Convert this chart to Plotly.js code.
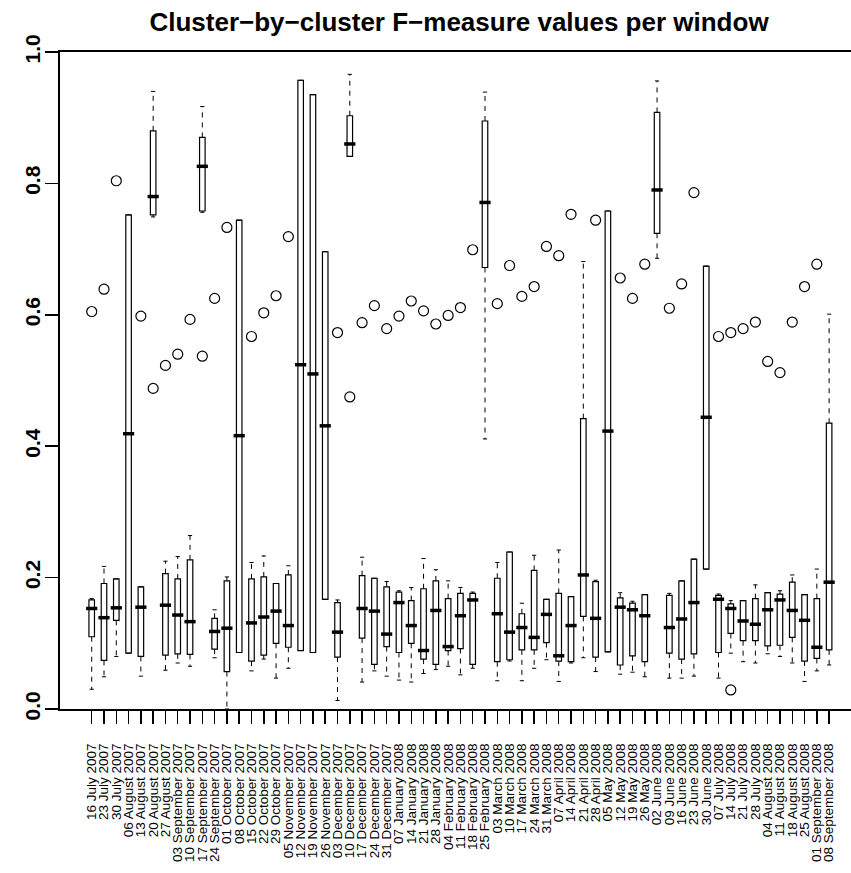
<!DOCTYPE html>
<html>
<head>
<meta charset="utf-8">
<script src="https://cdn.plot.ly/plotly-3.0.1.min.js"></script>
<style>html,body{margin:0;padding:0;background:#fff;overflow:hidden;}#chart{width:851px;height:873px;}</style>
</head>
<body>
<div id="chart"></div>
<script>
var weeks = ["16 July 2007","23 July 2007","30 July 2007","06 August 2007","13 August 2007","20 August 2007","27 August 2007","03 September 2007","10 September 2007","17 September 2007","24 September 2007","01 October 2007","08 October 2007","15 October 2007","22 October 2007","29 October 2007","05 November 2007","12 November 2007","19 November 2007","26 November 2007","03 December 2007","10 December 2007","17 December 2007","24 December 2007","31 December 2007","07 January 2008","14 January 2008","21 January 2008","28 January 2008","04 February 2008","11 February 2008","18 February 2008","25 February 2008","03 March 2008","10 March 2008","17 March 2008","24 March 2008","31 March 2008","07 April 2008","14 April 2008","21 April 2008","28 April 2008","05 May 2008","12 May 2008","19 May 2008","26 May 2008","02 June 2008","09 June 2008","16 June 2008","23 June 2008","30 June 2008","07 July 2008","14 July 2008","21 July 2008","28 July 2008","04 August 2008","11 August 2008","18 August 2008","25 August 2008","01 September 2008","08 September 2008"];

var lowerWhisker = [0.030,0.049,0.080,0.085,0.050,0.749,0.059,0.070,0.065,0.756,0.078,0.000,0.086,0.058,0.076,0.047,0.062,0.089,0.086,0.167,0.013,0.841,0.041,0.058,0.050,0.044,0.041,0.054,0.060,0.065,0.052,0.062,0.411,0.043,0.073,0.043,0.062,0.075,0.042,0.070,0.078,0.057,0.087,0.053,0.056,0.049,0.686,0.047,0.047,0.050,0.213,0.047,0.085,0.072,0.070,0.084,0.080,0.070,0.042,0.058,0.067];
var q1 = [0.110,0.074,0.135,0.085,0.080,0.752,0.082,0.084,0.083,0.758,0.091,0.057,0.086,0.073,0.082,0.100,0.094,0.089,0.086,0.167,0.079,0.841,0.108,0.068,0.095,0.086,0.100,0.076,0.068,0.089,0.092,0.068,0.672,0.072,0.075,0.090,0.090,0.101,0.073,0.072,0.141,0.079,0.087,0.067,0.081,0.072,0.724,0.085,0.076,0.084,0.213,0.086,0.115,0.104,0.104,0.096,0.097,0.109,0.073,0.077,0.090];
var medians = [0.153,0.139,0.154,0.419,0.155,0.780,0.158,0.143,0.133,0.826,0.118,0.123,0.416,0.131,0.140,0.149,0.127,0.524,0.510,0.431,0.117,0.860,0.153,0.149,0.114,0.162,0.127,0.089,0.150,0.095,0.142,0.166,0.771,0.145,0.117,0.124,0.109,0.144,0.081,0.127,0.204,0.138,0.423,0.155,0.151,0.142,0.790,0.124,0.137,0.162,0.444,0.167,0.153,0.134,0.129,0.151,0.166,0.150,0.135,0.094,0.193];
var q3 = [0.166,0.191,0.198,0.752,0.186,0.880,0.206,0.198,0.227,0.870,0.138,0.195,0.744,0.198,0.201,0.191,0.204,0.957,0.935,0.696,0.162,0.903,0.203,0.199,0.186,0.178,0.165,0.183,0.195,0.168,0.176,0.176,0.895,0.199,0.239,0.145,0.211,0.167,0.176,0.171,0.442,0.194,0.758,0.169,0.161,0.174,0.908,0.173,0.195,0.228,0.674,0.173,0.160,0.165,0.168,0.177,0.175,0.193,0.174,0.168,0.435];
var upperWhisker = [0.168,0.217,0.198,0.752,0.186,0.940,0.225,0.232,0.264,0.917,0.151,0.201,0.744,0.223,0.233,0.191,0.218,0.957,0.935,0.696,0.166,0.966,0.231,0.199,0.194,0.180,0.185,0.229,0.212,0.195,0.185,0.178,0.939,0.223,0.239,0.161,0.234,0.167,0.242,0.171,0.681,0.196,0.758,0.177,0.164,0.174,0.956,0.176,0.195,0.228,0.674,0.175,0.165,0.165,0.189,0.177,0.180,0.204,0.174,0.213,0.601];

var outlierWeek = ["16 July 2007","23 July 2007","30 July 2007","13 August 2007","20 August 2007","27 August 2007","03 September 2007","10 September 2007","17 September 2007","24 September 2007","01 October 2007","15 October 2007","22 October 2007","29 October 2007","05 November 2007","03 December 2007","10 December 2007","17 December 2007","24 December 2007","31 December 2007","07 January 2008","14 January 2008","21 January 2008","28 January 2008","04 February 2008","11 February 2008","18 February 2008","03 March 2008","10 March 2008","17 March 2008","24 March 2008","31 March 2008","07 April 2008","14 April 2008","28 April 2008","12 May 2008","19 May 2008","26 May 2008","09 June 2008","16 June 2008","23 June 2008","07 July 2008","14 July 2008","14 July 2008","21 July 2008","28 July 2008","04 August 2008","11 August 2008","18 August 2008","25 August 2008","01 September 2008"];
var outlierValue = [0.605,0.639,0.804,0.598,0.488,0.523,0.540,0.593,0.537,0.625,0.733,0.567,0.603,0.629,0.719,0.573,0.475,0.588,0.614,0.579,0.598,0.621,0.606,0.586,0.599,0.611,0.699,0.617,0.675,0.628,0.643,0.704,0.690,0.753,0.744,0.656,0.625,0.677,0.610,0.647,0.786,0.567,0.573,0.029,0.579,0.589,0.529,0.512,0.589,0.643,0.677];

var yTicks = [0, 0.2, 0.4, 0.6, 0.8, 1.0];
var yTickText = ["0.0","0.2","0.4","0.6","0.8","1.0"];

// whisker segments (dashed) built from the statistics
var wx = [], wy = [];
for (var i = 0; i < weeks.length; i++) {
  if (upperWhisker[i] > q3[i]) { wx.push(weeks[i], weeks[i], null); wy.push(q3[i], upperWhisker[i], null); }
  if (lowerWhisker[i] < q1[i]) { wx.push(weeks[i], weeks[i], null); wy.push(q1[i], lowerWhisker[i], null); }
}

var traces = [
  {
    type: 'box', x: weeks, q1: q1, median: medians, q3: q3,
    lowerfence: q1, upperfence: q3,
    width: 0.45, whiskerwidth: 0, boxpoints: false,
    fillcolor: 'white', line: {color: 'black', width: 1.2},
    hoverinfo: 'skip', showlegend: false
  },
  {
    type: 'scatter', mode: 'lines', x: wx, y: wy, connectgaps: false,
    line: {color: 'black', width: 1, dash: '5px,5px'},
    hoverinfo: 'skip', showlegend: false
  },
  {
    type: 'scatter', mode: 'markers', x: weeks.concat(weeks), y: upperWhisker.concat(lowerWhisker),
    marker: {symbol: 'line-ew', size: 3, line: {color: 'black', width: 1}},
    hoverinfo: 'skip', showlegend: false
  },
  {
    type: 'scatter', mode: 'markers', x: weeks, y: medians,
    marker: {symbol: 'line-ew', size: 8, line: {color: 'black', width: 3.5}},
    hoverinfo: 'skip', showlegend: false
  },
  {
    type: 'scatter', mode: 'markers', x: outlierWeek, y: outlierValue,
    marker: {symbol: 'circle-open', size: 10, color: 'black', line: {color: 'black', width: 1.2}},
    hoverinfo: 'skip', showlegend: false
  }
];

var layout = {
  width: 851, height: 873,
  margin: {l: 60, r: 0, t: 52, b: 164},
  paper_bgcolor: 'white', plot_bgcolor: 'white',
  showlegend: false,
  font: {family: 'Liberation Sans, Arial, sans-serif', color: 'black'},
  title: {
    text: 'Cluster\u2212by\u2212cluster F\u2212measure values per window',
    font: {family: 'Liberation Sans, Arial, sans-serif', size: 26, weight: 'bold', color: 'black'},
    x: 0.5394, xanchor: 'center', xref: 'container',
    y: 0.975, yanchor: 'middle', yref: 'container'
  },
  xaxis: {
    type: 'category', categoryorder: 'array', categoryarray: weeks,
    range: [-2.58, 61.78],
    tickmode: 'array', tickvals: weeks, ticktext: weeks,
    tickangle: -90, tickfont: {size: 13.5, color: 'black'},
    ticks: 'outside', ticklen: 13, tickwidth: 1.5, tickcolor: 'black',
    ticklabelstandoff: 14,
    showline: true, linecolor: 'black', linewidth: 2, mirror: true,
    showgrid: false, zeroline: false
  },
  yaxis: {
    range: [0, 1],
    tickmode: 'array', tickvals: yTicks, ticktext: yTickText,
    tickangle: -90, tickfont: {size: 21, weight: 'bold', color: 'black'},
    ticks: 'outside', ticklen: 13, tickwidth: 1.5, tickcolor: 'black',
    ticklabelstandoff: -3,
    showline: true, linecolor: 'black', linewidth: 2, mirror: false,
    showgrid: false, zeroline: false
  }
};

Plotly.newPlot('chart', traces, layout, {staticPlot: true, displayModeBar: false});
</script>
</body>
</html>
